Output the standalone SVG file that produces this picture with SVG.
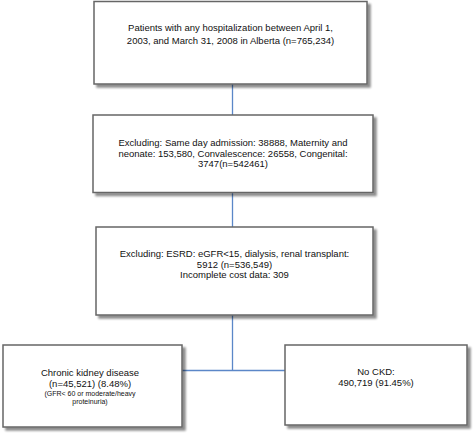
<svg xmlns="http://www.w3.org/2000/svg" width="473" height="435" viewBox="0 0 473 435">
  <defs>
    <filter id="sh" x="-10%" y="-10%" width="125%" height="130%">
      <feGaussianBlur in="SourceAlpha" stdDeviation="1.2"/>
      <feOffset dx="2.5" dy="2.5" result="b"/>
      <feComponentTransfer><feFuncA type="linear" slope="0.45"/></feComponentTransfer>
      <feMerge><feMergeNode/><feMergeNode in="SourceGraphic"/></feMerge>
    </filter>
  </defs>
  <style>
    .box{fill:#fff;stroke:#666;stroke-width:1.5;filter:url(#sh)}
    text{font-family:"Liberation Sans",Arial,sans-serif;font-size:9.5px;fill:#111;text-anchor:middle}
    .sm{font-size:7px}
    .con{stroke:#5b87c8;stroke-width:1.3;fill:none}
  </style>
  <rect width="473" height="435" fill="#fff"/>
  <g id="connectors">
    <line class="con" x1="232.5" y1="84" x2="232.5" y2="115"/>
    <line class="con" x1="232.5" y1="192" x2="232.5" y2="227"/>
    <polyline class="con" points="232.5,315 232.5,370.5"/>
    <line class="con" x1="182" y1="370.5" x2="285" y2="370.5"/>
  </g>
  <g id="n1">
    <rect class="box" x="94" y="1.5" width="273" height="82.5"/>
    <text x="230.5" y="31">Patients with any hospitalization between April 1,</text>
    <text x="230.5" y="43.5">2003, and March 31, 2008 in Alberta (n=765,234)</text>
  </g>
  <g id="n2">
    <rect class="box" x="93" y="115" width="280" height="77.5"/>
    <text x="233" y="146">Excluding: Same day admission: 38888, Maternity and</text>
    <text x="233" y="156.5">neonate: 153,580, Convalescence: 26558, Congenital:</text>
    <text x="233" y="167">3747(n=542461)</text>
  </g>
  <g id="n3">
    <rect class="box" x="96" y="227" width="277" height="88"/>
    <text x="234.5" y="257">Excluding: ESRD: eGFR&lt;15, dialysis, renal transplant:</text>
    <text x="234.5" y="267.5">5912 (n=536,549)</text>
    <text x="234.5" y="278">Incomplete cost data: 309</text>
  </g>
  <g id="n4">
    <rect class="box" x="3" y="345" width="179" height="82"/>
    <text x="90" y="376">Chronic kidney disease</text>
    <text x="90" y="387">(n=45,521) (8.48%)</text>
    <text class="sm" x="90" y="395.5">(GFR&lt; 60 or moderate/heavy</text>
    <text class="sm" x="90" y="403.5">proteinuria)</text>
  </g>
  <g id="n5">
    <rect class="box" x="285" y="345" width="182" height="80"/>
    <text x="376" y="375">No CKD:</text>
    <text x="376" y="386">490,719 (91.45%)</text>
  </g>
</svg>
